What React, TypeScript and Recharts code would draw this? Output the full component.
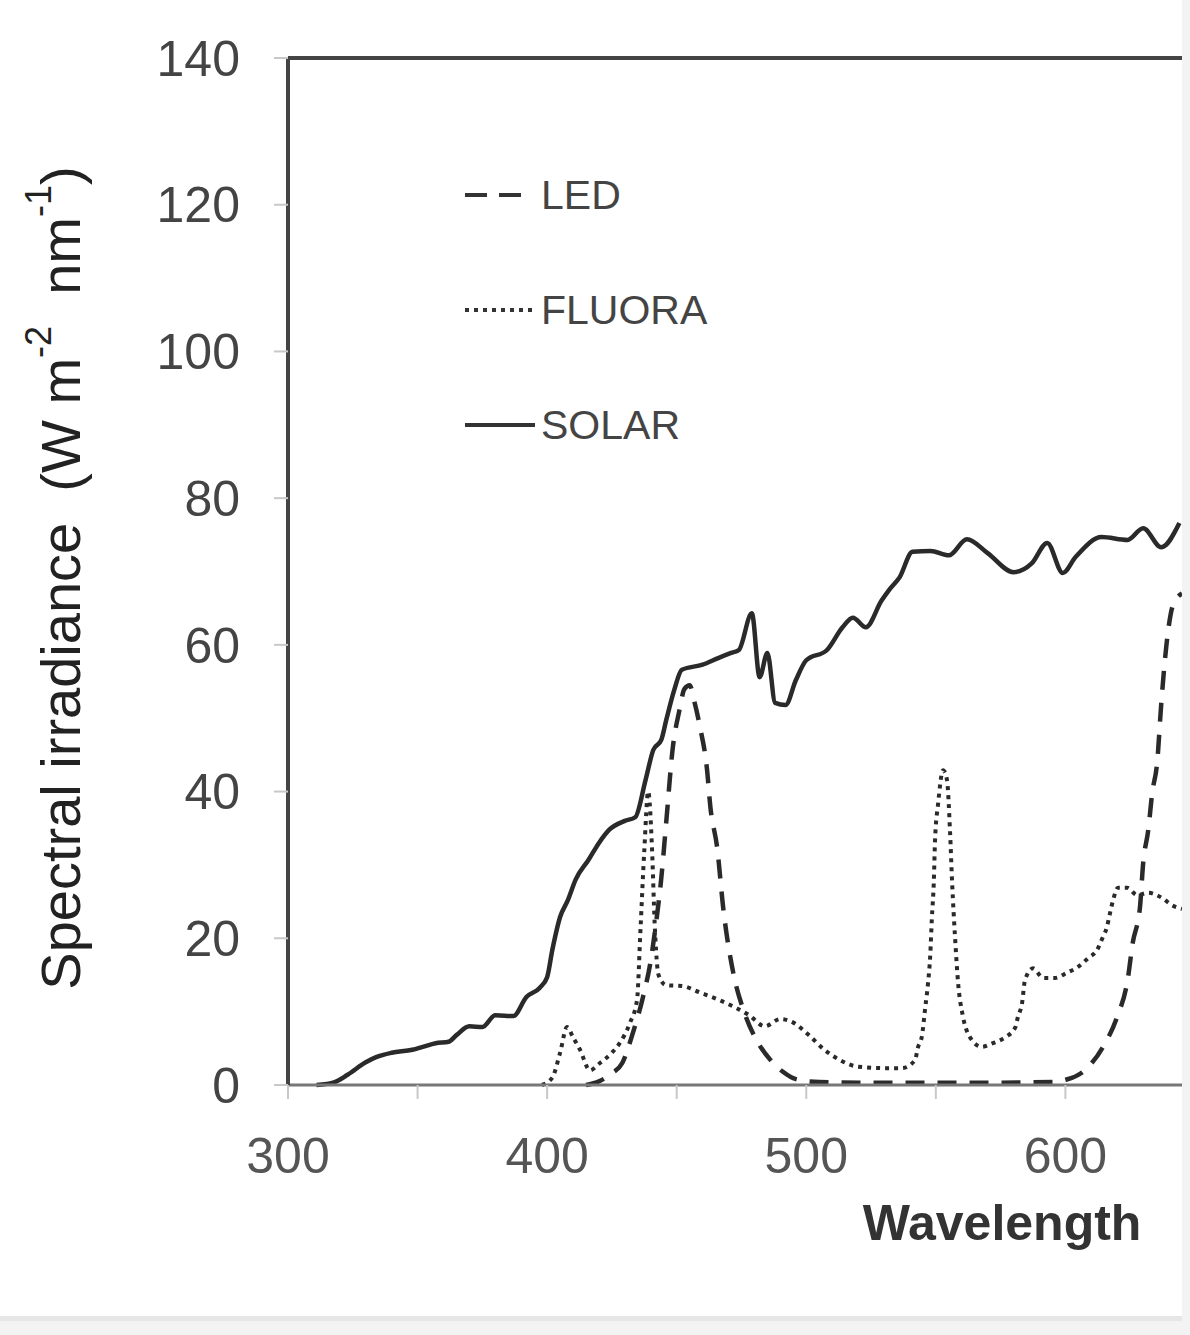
import React from 'react';
import { LineChart, Line, XAxis, YAxis, Legend, ReferenceLine, Label } from 'recharts';

const FONT = '"Liberation Sans", Arial, Helvetica, sans-serif';

// wavelength (nm) / spectral irradiance (W m-2 nm-1)
const solarWavelength = [311, 318, 323, 330, 334, 340, 348, 352, 357, 362, 365, 370, 375, 380, 387, 392, 397, 400, 402, 405, 408, 411, 416, 420, 424, 430, 434, 438, 441, 444, 446, 449, 452, 460, 466, 471, 474, 479, 482, 485, 488, 492, 496, 500, 508, 514, 518, 523, 529, 532, 536, 541, 548, 555, 562, 570, 580, 587, 593, 599, 604, 614, 624, 630, 637, 644];
const solarIrradiance = [0, 0.4, 1.4, 3.1, 3.8, 4.4, 4.8, 5.2, 5.7, 5.9, 6.8, 8.0, 7.9, 9.5, 9.4, 12, 13.2, 14.7, 18.4, 22.9, 25.2, 28, 30.7, 33, 34.8, 36, 36.5, 41.6, 45.7, 47, 49.8, 53.8, 56.6, 57.3, 58.2, 58.9, 59.3, 64.3, 55.6, 58.9, 52.1, 51.8, 55.2, 57.9, 59.3, 62.4, 63.7, 62.4, 66, 67.5, 69.2, 72.7, 72.8, 72.2, 74.4, 72.5, 69.9, 71.1, 73.9, 69.8, 72, 74.7, 74.3, 75.9, 73.3, 76.6];

const ledWavelength = [415, 420, 425, 429, 433, 437, 440, 442, 444, 446, 448.5, 451, 453, 455, 457, 459, 461.7, 463, 465.6, 468, 472, 476, 481, 486, 491, 496, 505, 530, 560, 595, 600, 606, 614.5, 620, 624, 626, 628.8, 630, 632, 633.5, 635.4, 637, 639, 641.6, 645];
const ledIrradiance = [0, 0.5, 1.6, 3, 7, 12, 17, 22, 28, 36, 46, 51, 54, 54.5, 52, 48.8, 43, 37.9, 32.4, 24, 15, 10, 6, 3.5, 1.8, 0.8, 0.4, 0.3, 0.3, 0.4, 0.7, 1.6, 5.2, 9.3, 14.3, 19.4, 24.3, 30.2, 34.8, 39.8, 43.9, 52, 60, 65.5, 67];

const fluoraWavelength = [398, 402, 405, 407.7, 410, 412.7, 416.5, 420.4, 425, 428, 432, 434.7, 436, 437.5, 439, 440.5, 441.5, 443, 446, 452, 459, 467, 478, 484, 490, 495, 501, 507, 513, 520, 530, 537, 542, 543, 544.7, 545.8, 547, 547.8, 548.5, 549.2, 549.7, 550.9, 552.8, 554.3, 555.5, 556.3, 557.4, 558.6, 560.5, 563.2, 567.8, 572, 576.7, 580.6, 581.7, 583.3, 584.4, 587.5, 591.4, 596, 600.6, 604.9, 608.8, 612.2, 614.5, 616, 617.2, 618.4, 620.3, 623.8, 627.7, 632, 637.3, 641.2, 645];
const fluoraIrradiance = [0, 1, 4.4, 7.9, 6.5, 4.8, 2, 3, 4.4, 5.7, 8.5, 11.6, 21, 32, 40, 32, 22, 15, 13.6, 13.5, 12.6, 11.5, 9.5, 8, 9, 8.5, 6.8, 4.8, 3.4, 2.5, 2.3, 2.3, 3.4, 5, 6.8, 10.2, 13.9, 17.4, 22.9, 27.5, 33.4, 38.4, 42.9, 41.6, 34.4, 27.5, 20.2, 13.9, 9.3, 6.5, 5.2, 5.7, 6.5, 7.8, 9.3, 11.2, 14.3, 15.9, 14.6, 14.6, 15.3, 16.1, 17.3, 18.4, 20.2, 21.5, 23.4, 25.2, 26.9, 26.9, 25.9, 26.2, 25.5, 24.5, 24];

const xTicks = [300, 350, 400, 450, 500, 550, 600];
const yTicks = [0, 20, 40, 60, 80, 100, 120, 140];

const toPoints = (wl: number[], val: number[]) => wl.map((w, i) => ({ wl: w, value: val[i] }));

const series = [
  { name: 'LED', data: toPoints(ledWavelength, ledIrradiance), dash: '19 13', width: 4.5, legendLen: 60 },
  { name: 'FLUORA', data: toPoints(fluoraWavelength, fluoraIrradiance), dash: '4 5', width: 4, legendLen: 70 },
  { name: 'SOLAR', data: toPoints(solarWavelength, solarIrradiance), dash: undefined, width: 4.5, legendLen: 70 },
];

const renderLegend = () => (
  <svg width={300} height={290} style={{ overflow: 'visible' }}>
    {series.map((s, i) => {
      const y = 30 + i * 115;
      return (
        <g key={s.name}>
          <line x1={5} x2={5 + s.legendLen} y1={y} y2={y} stroke="#333" strokeWidth={4} strokeDasharray={s.name === 'LED' ? '22 12' : s.dash} />
          <text x={81} y={y} dominantBaseline="central" fontSize={41} fill="#444" fontFamily={FONT}>
            {s.name}
          </text>
        </g>
      );
    })}
  </svg>
);

const YTitle = () => (
  <text
    x={60}
    y={578}
    transform="rotate(-90, 60, 578)"
    textAnchor="middle"
    dominantBaseline="central"
    fontSize={56}
    fill="#222"
    fontFamily={FONT}
    style={{ whiteSpace: 'pre' }}
  >
    {'Spectral irradiance  (W m'}
    <tspan dy={-22} fontSize={36}>-2</tspan>
    <tspan dy={22}>{'  nm'}</tspan>
    <tspan dy={-22} fontSize={36}>-1</tspan>
    <tspan dy={22}>)</tspan>
  </text>
);

const XTitle = () => (
  <text x={1002} y={1240} textAnchor="middle" fontSize={50} fontWeight="bold" fill="#333" fontFamily={FONT}>
    Wavelength
  </text>
);

export default function App() {
  return (
    <div style={{ position: 'absolute', left: 0, top: 0, width: 1190, height: 1335, background: '#f4f3f4' }}>
      <div style={{ width: 1182, height: 1316, background: '#fff', borderBottom: '5px solid #e6e6e6' }}>
        <LineChart width={1182} height={1316} margin={{ top: 58, right: 0, left: 0, bottom: 0 }}>
          <XAxis
            dataKey="wl"
            type="number"
            domain={[300, 645]}
            allowDataOverflow
            ticks={xTicks}
            tickFormatter={(v: number) => (v % 100 === 0 ? String(v) : '')}
            height={231}
            tickSize={14}
            tickMargin={38}
            axisLine={{ stroke: '#777', strokeWidth: 3 }}
            tickLine={{ stroke: '#c8c8c8', strokeWidth: 2 }}
            tick={{ fontSize: 50, fill: '#555', fontFamily: FONT }}
          >
            <Label content={<XTitle />} />
          </XAxis>
          <YAxis
            type="number"
            domain={[0, 140]}
            ticks={yTicks}
            width={288}
            tickSize={14}
            tickMargin={34}
            axisLine={{ stroke: '#444', strokeWidth: 4 }}
            tickLine={{ stroke: '#c8c8c8', strokeWidth: 2 }}
            tick={{ fontSize: 50, fill: '#444', fontFamily: FONT }}
          >
            <Label content={<YTitle />} />
          </YAxis>
          <ReferenceLine y={140} stroke="#444" strokeWidth={4} />
          <Legend
            layout="vertical"
            align="center"
            verticalAlign="middle"
            content={renderLegend}
            wrapperStyle={{ left: 460, top: 165, width: 300, height: 290 }}
          />
          {series.map((s) => (
            <Line
              key={s.name}
              name={s.name}
              data={s.data}
              dataKey="value"
              type="monotone"
              stroke="#2a2a2a"
              strokeWidth={s.width}
              strokeDasharray={s.dash}
              dot={false}
              activeDot={false}
              isAnimationActive={false}
            />
          ))}
        </LineChart>
      </div>
    </div>
  );
}
